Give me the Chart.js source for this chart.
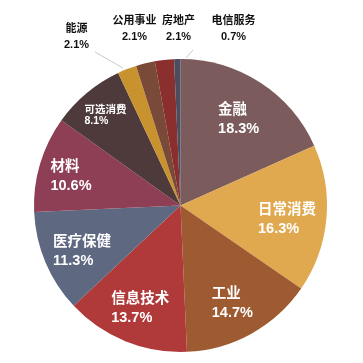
<!DOCTYPE html>
<html><head><meta charset="utf-8">
<script src="https://cdn.jsdelivr.net/npm/chart.js@4/dist/chart.umd.min.js"></script>
<style>html,body{margin:0;padding:0;background:#fff}#wrap{width:363px;height:363px}</style>
</head><body><div id="wrap"><canvas id="c" width="363" height="363"></canvas></div>
<script>
const categories = ['金融','日常消费','工业','信息技术','医疗保健','材料','可选消费','能源','公用事业','房地产','电信服务'];
const shares = [18.3,16.3,14.7,13.7,11.3,10.6,8.1,2.1,2.1,2.1,0.7];
const sliceColors = ['#7b5b5b','#e0a84f','#9e5a30','#b0393a','#5e6880','#8e3e55','#4e3a3a','#c8922e','#7a4a38','#8a2e2e','#4a4e60'];

const FONT = '"Liberation Sans","Noto Sans CJK SC",Arial,sans-serif';
const labelPlugin = {
  id: 'sliceLabels',
  afterDatasetsDraw(chart) {
    const ctx = chart.ctx;
    const meta = chart.getDatasetMeta(0);
    // outside labels for small slices: horizontal offset from pie center, vertical gap above pie
    const outside = {7:{dx:-104,dy:-22,lx:[95,52],ex:[123,68]},8:{dx:-46,dy:-30},9:{dx:-2,dy:-30,lx:[193,50],ex:[186,58]},10:{dx:53,dy:-30}};
    const radial = {5:0.78, 6:0.8};
    meta.data.forEach((arc, i) => {
      const p = arc.getProps(['x','y','startAngle','endAngle','outerRadius'], true);
      const name = categories[i];
      const pct = shares[i].toFixed(1) + '%';
      ctx.save();
      if (outside[i]) {
        const o = outside[i];
        const cx = p.x + o.dx;
        const cy = p.y - p.outerRadius + o.dy;
        ctx.fillStyle = '#111';
        ctx.textAlign = 'center';
        ctx.textBaseline = 'middle';
        ctx.font = 'bold 11px ' + FONT;
        ctx.fillText(name, cx, cy - 8);
        ctx.fillText(pct, cx, cy + 8);
        if (o.lx) {
          ctx.strokeStyle = 'rgba(150,150,150,0.5)';
          ctx.lineWidth = 1;
          ctx.beginPath();
          ctx.moveTo(o.lx[0], o.lx[1]);
          ctx.lineTo(o.ex[0], o.ex[1]);
          ctx.stroke();
        }
      } else {
        const mid = (p.startAngle + p.endAngle) / 2;
        const small = i === 6;
        const fs = small ? 10.5 : 14.5;
        const lh = small ? 11 : 19;
        const r = p.outerRadius * (radial[i] || 0.73);
        const cx = p.x + Math.cos(mid) * r;
        const cy = p.y + Math.sin(mid) * r + (small ? 0 : 4);
        ctx.font = 'bold ' + fs + 'px ' + FONT;
        const w = Math.max(ctx.measureText(name).width, ctx.measureText(pct).width);
        ctx.fillStyle = '#fff';
        ctx.textAlign = 'left';
        ctx.textBaseline = 'middle';
        ctx.fillText(name, cx - w / 2, cy - lh / 2);
        ctx.fillText(pct, cx - w / 2, cy + lh / 2);
      }
      ctx.restore();
    });
  }
};

new Chart(document.getElementById('c'), {
  type: 'pie',
  data: { labels: categories, datasets: [{ data: shares, backgroundColor: sliceColors, borderWidth: 0, hoverOffset: 0 }] },
  options: {
    responsive: false, animation: false,
    layout: { padding: { top: 59, bottom: 11, left: 1, right: 3 } },
    plugins: { legend: { display: false }, tooltip: { enabled: false } }
  },
  plugins: [labelPlugin]
});
</script></body></html>
